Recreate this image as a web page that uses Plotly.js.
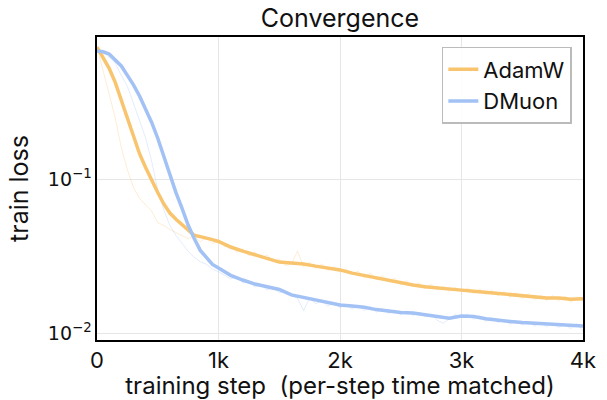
<!DOCTYPE html>
<html>
<head>
<meta charset="utf-8">
<script src="https://cdn.plot.ly/plotly-3.0.1.min.js"></script>
<style>html,body{margin:0;padding:0;background:#fff;}#chart{width:607px;height:400px;}</style>
</head>
<body>
<div id="chart"></div>
<script>
// ---- data ----
const smoothSteps = [0,50,100,150,200,250,300,350,400,450,500,550,600,650,700,750,800,850,900,950,1000,
  1100,1200,1300,1400,1500,1600,1700,1800,1900,2000,2100,2200,2300,2400,2500,2600,2700,2800,2900,3000,
  3100,3200,3300,3400,3500,3600,3700,3800,3900,4000];
const adamwSmooth = [0.719,0.611,0.523,0.424,0.324,0.247,0.188,0.146,0.119,0.098,0.0818,0.0689,0.0601,0.0548,0.0504,0.0463,0.0431,0.0423,0.0415,0.0404,0.0393,
  0.0362,0.0340,0.0323,0.0307,0.0289,0.0285,0.0281,0.0272,0.0264,0.0257,0.0245,0.0236,0.0229,0.0221,0.0211,0.0205,0.0200,0.0196,0.0192,0.0190,
  0.0187,0.0184,0.0180,0.0177,0.0173,0.0171,0.0169,0.0169,0.0166,0.0167];
const dmuonSmooth = [0.678,0.670,0.649,0.597,0.542,0.471,0.409,0.346,0.287,0.233,0.184,0.140,0.1035,0.0816,0.0644,0.0503,0.0411,0.0344,0.0310,0.0279,0.0264,
  0.0237,0.0221,0.0208,0.0200,0.0192,0.0177,0.0170,0.0163,0.0158,0.0152,0.0150,0.0147,0.0142,0.0139,0.0136,0.0135,0.0132,0.0128,0.0125,0.0129,
  0.0128,0.0124,0.0121,0.0119,0.0117,0.0116,0.0115,0.0114,0.0112,0.0111];

const rawSteps = [0,50,100,150,200,250,300,350,400,450,500,550,600,650,700,750,800,850,900,950,1000,
  1050,1100,1150,1200,1250,1300,1350,1400,1450,1500,1550,1600,1650,1700,1750,1800,1850,1900,1950,2000,
  2050,2100,2150,2200,2250,2300,2350,2400,2450,2500,2550,2600,2650,2700,2750,2800,2850,2900,2950,3000,
  3050,3100,3150,3200,3250,3300,3350,3400,3450,3500,3550,3600,3650,3700,3750,3800,3850,3900,3950,4000];
const adamwRaw = [0.72,0.50,0.36,0.25,0.16,0.115,0.088,0.075,0.068,0.062,0.052,0.050,0.047,0.045,0.043,0.041,0.043,0.039,0.042,0.038,0.040,
  0.0365,0.0372,0.0335,0.0352,0.0318,0.0336,0.0305,0.0322,0.0290,0.0302,0.0275,0.0280,0.0340,0.0270,0.0288,0.0262,0.0281,0.0255,0.0270,0.0248,
  0.0262,0.0240,0.0252,0.0228,0.0246,0.0222,0.0236,0.0214,0.0228,0.0206,0.0219,0.0200,0.0212,0.0194,0.0207,0.0190,0.0201,0.0186,0.0198,0.0184,
  0.0196,0.0181,0.0193,0.0178,0.0189,0.0174,0.0186,0.0171,0.0183,0.0167,0.0180,0.0165,0.0176,0.0163,0.0175,0.0162,0.0174,0.0158,0.0172,0.0160];
const dmuonRaw = [0.69,0.66,0.62,0.566,0.47,0.40,0.31,0.24,0.185,0.13,0.085,0.063,0.050,0.043,0.038,0.034,0.031,0.029,0.028,0.026,0.025,
  0.0238,0.0225,0.0232,0.0212,0.0218,0.0199,0.0207,0.0190,0.0199,0.0183,0.0186,0.0175,0.0168,0.0140,0.0169,0.0155,0.0162,0.0150,0.0157,0.0146,
  0.0153,0.0143,0.0151,0.0140,0.0148,0.0137,0.0144,0.0134,0.0141,0.0131,0.0139,0.0130,0.0136,0.0128,0.0133,0.0121,0.0116,0.0124,0.0132,0.0126,
  0.0133,0.0123,0.0129,0.0119,0.0126,0.0117,0.0122,0.0114,0.0120,0.0113,0.0119,0.0111,0.0117,0.0110,0.0116,0.0109,0.0114,0.0107,0.0115,0.0103];

const seriesNames = ['AdamW','DMuon'];
const xTickVals = [0,1000,2000,3000,4000];
const xTickText = ['0','1k','2k','3k','4k'];
const yTickVals = [0.01,0.1];
const yTickText = ['10<sup>\u22122</sup>','10<sup>\u22121</sup>'];

const orange = '#F9C46E';
const blue = '#A2C1F5';
const font = 'Inter, "DejaVu Sans", sans-serif';

const traces = [
  {x: rawSteps, y: adamwRaw, mode:'lines', line:{color:orange, width:1}, opacity:0.3, showlegend:false, hoverinfo:'skip'},
  {x: rawSteps, y: dmuonRaw, mode:'lines', line:{color:blue, width:1}, opacity:0.3, showlegend:false, hoverinfo:'skip'},
  {x: smoothSteps, y: adamwSmooth, name: seriesNames[0], mode:'lines', line:{color:orange, width:3.5}},
  {x: smoothSteps, y: dmuonSmooth, name: seriesNames[1], mode:'lines', line:{color:blue, width:3.5}}
];

const layout = {
  width: 607, height: 400,
  margin: {l:97, r:24, t:37, b:60},
  paper_bgcolor:'#fff', plot_bgcolor:'#fff',
  font: {family: font, size: 22, color:'#111'},
  title: {text:'Convergence', font:{family:font, size:25, color:'#111'}, x:0.5, xref:'paper', xanchor:'center', y:0.955, yanchor:'middle'},
  xaxis: {
    range:[0,4000], tickvals:xTickVals, ticktext:xTickText,
    showgrid:true, gridcolor:'#e6e6e6', gridwidth:1, zeroline:false,
    showline:true, linecolor:'#000', linewidth:1.6, mirror:true, ticks:'',
    tickfont:{size:22}, title:{text:'training step  (per-step time matched)', font:{size:24}, standoff:2}
  },
  yaxis: {
    type:'log', range:[-2.045,-0.078], tickvals:yTickVals, ticktext:yTickText,
    showgrid:true, gridcolor:'#e6e6e6', gridwidth:1, zeroline:false,
    showline:true, linecolor:'#000', linewidth:1.6, mirror:true, ticks:'',
    tickfont:{family:'"DejaVu Sans", sans-serif', size:19}, title:{text:'train loss', font:{size:25}, standoff:12}
  },
  legend: {x:0.977, xanchor:'right', y:0.967, yanchor:'top', bgcolor:'rgba(255,255,255,0.9)',
    bordercolor:'#bbbbbb', borderwidth:1.5, font:{size:22}, tracegroupgap:0},
  showlegend:true
};

Plotly.newPlot('chart', traces, layout, {staticPlot:true, displayModeBar:false});
</script>
</body>
</html>
